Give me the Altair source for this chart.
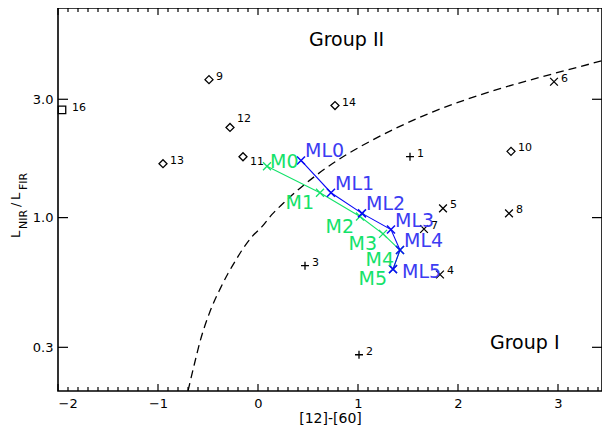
import altair as alt
import pandas as pd

FONT = "DejaVu Sans"
W, H = 544, 383

# ---- numbered sources ----
src_id = ["1", "2", "3", "4", "5", "6", "7", "8", "9", "10", "11", "12", "13", "14", "16"]
src_x = [1.52, 1.01, 0.47, 1.82, 1.85, 2.96, 1.66, 2.51, -0.49, 2.53, -0.15, -0.28, -0.95, 0.77, -1.96]
src_y = [1.76, 0.28, 0.64, 0.59, 1.09, 3.53, 0.90, 1.04, 3.60, 1.85, 1.76, 2.31, 1.65, 2.83, 2.72]
src_kind = ["plus", "plus", "plus", "cross", "cross", "cross", "cross", "cross",
            "diamond", "diamond", "diamond", "diamond", "diamond", "diamond", "square"]

# ---- model tracks ----
ml_name = ["ML0", "ML1", "ML2", "ML3", "ML4", "ML5"]
ml_x = [0.43, 0.73, 1.04, 1.33, 1.42, 1.35]
ml_y = [1.70, 1.26, 1.04, 0.895, 0.74, 0.62]
m_name = ["M0", "M1", "M2", "M3", "M4", "M5"]
m_x = [0.09, 0.62, 1.02, 1.25, 1.42, 1.35]
m_y = [1.61, 1.26, 1.01, 0.86, 0.74, 0.62]

# ---- dividing curve ----
curve_x = [-0.70, -0.63, -0.58, -0.48, -0.38, -0.30, -0.23, -0.15, -0.06, 0.04,
           0.14, 0.25, 0.59, 0.92, 1.09, 1.75, 2.42, 2.95, 3.50]
curve_y = [0.20, 0.263, 0.316, 0.418, 0.515, 0.595, 0.665, 0.75, 0.838, 0.92,
           1.03, 1.14, 1.49, 1.83, 2.00, 2.67, 3.31, 3.80, 4.35]

# ---- annotations ----
group_text = ["Group II", "Group I"]
group_x = [0.51, 2.32]
group_y = [4.94, 0.296]

# ---- axis ticks ----
x_major = [-2, -1, 0, 1, 2, 3]
x_minor = [round(-2 + 0.1 * i, 1) for i in range(55) if i % 10 != 0]
y_major = [0.3, 1.0, 3.0]

GREEN = "#14e26a"
BLUE = "#0a0af5"
BLUE_TXT = "#3c3cf2"

src_df = pd.DataFrame({"id": src_id, "x": src_x, "y": src_y, "kind": src_kind})
ml_df = pd.DataFrame({"name": ml_name, "x": ml_x, "y": ml_y, "i": list(range(len(ml_name)))})
m_df = pd.DataFrame({"name": m_name, "x": m_x, "y": m_y, "i": list(range(len(m_name)))})
curve_df = pd.DataFrame({"x": curve_x, "y": curve_y, "i": list(range(len(curve_x)))})
grp_df = pd.DataFrame({"t": group_text, "x": group_x, "y": group_y})
xmaj_df = pd.DataFrame({"x": x_major})
xmin_df = pd.DataFrame({"x": x_minor})
ymaj_df = pd.DataFrame({"y": y_major})

xs = alt.Scale(domain=[-2, 3.44], nice=False, zero=False)
ys = alt.Scale(type="log", domain=[0.2, 7], nice=False)
xaxis = alt.Axis(title="[12]-[60]", values=x_major, format="d", ticks=False, domain=False,
                 grid=False, labelPadding=6, titlePadding=1, labelFontSize=13,
                 titleFontSize=14, titleFontWeight="normal", labelFont=FONT, titleFont=FONT,
                 labelColor="black", titleColor="black")
yaxis = alt.Axis(title=None, values=y_major, format=".1f", ticks=False, domain=False,
                 grid=False, labelPadding=5, labelFontSize=13, labelFont=FONT,
                 labelColor="black")


def X(f="x"):
    return alt.X(f"{f}:Q", scale=xs, axis=xaxis)


def Y(f="y"):
    return alt.Y(f"{f}:Q", scale=ys, axis=yaxis)


plus_path = "M-1,0L1,0M0,-1L0,1"
x_path = "M-1,-1L1,1M-1,1L1,-1"

layers = []

# dashed curve
layers.append(alt.Chart(curve_df).mark_line(color="black", strokeWidth=1.3,
                                             strokeDash=[8, 5], clip=True,
                                             interpolate="monotone")
              .encode(x=X(), y=Y(), order="i:Q"))

# green track
layers.append(alt.Chart(m_df).mark_line(color=GREEN, strokeWidth=1.1)
              .encode(x=X(), y=Y(), order="i:Q"))
layers.append(alt.Chart(m_df).mark_point(shape=x_path, filled=False, color=GREEN,
                                          size=64, strokeWidth=1.3, opacity=1)
              .encode(x=X(), y=Y()))
# blue track
layers.append(alt.Chart(ml_df).mark_line(color=BLUE, strokeWidth=1.1)
              .encode(x=X(), y=Y(), order="i:Q"))
layers.append(alt.Chart(ml_df).mark_point(shape=x_path, filled=False, color=BLUE,
                                           size=64, strokeWidth=1.5, opacity=1)
              .encode(x=X(), y=Y()))

# sources
shape_of = {"plus": (plus_path, 64), "cross": (x_path, 60), "diamond": ("diamond", 64),
            "square": ("square", 56)}
for kind, (shp, sz) in shape_of.items():
    layers.append(alt.Chart(src_df).transform_filter(alt.datum.kind == kind)
                  .mark_point(shape=shp, filled=False, color="black", size=sz,
                              strokeWidth=1.3, opacity=1)
                  .encode(x=X(), y=Y()))

# source labels
lab = dict(font=FONT, fontSize=11, color="black", align="left", baseline="middle", dx=7)
layers.append(alt.Chart(src_df).transform_filter("datum.id != '11' && datum.id != '12' && datum.id != '16'")
              .mark_text(dy=-3, **lab).encode(x=X(), y=Y(), text="id:N"))
layers.append(alt.Chart(src_df).transform_filter("datum.id == '12'")
              .mark_text(dy=-8, **lab).encode(x=X(), y=Y(), text="id:N"))
layers.append(alt.Chart(src_df).transform_filter("datum.id == '11'")
              .mark_text(dy=5, **lab).encode(x=X(), y=Y(), text="id:N"))
lab16 = dict(lab)
lab16["dx"] = 10
layers.append(alt.Chart(src_df).transform_filter("datum.id == '16'")
              .mark_text(dy=-2, **lab16).encode(x=X(), y=Y(), text="id:N"))

# model labels
mlab = dict(font=FONT, fontSize=19, baseline="alphabetic")
layers.append(alt.Chart(ml_df).transform_filter("datum.name != 'ML5'")
              .mark_text(align="left", dx=4, dy=-3, color=BLUE_TXT, **mlab)
              .encode(x=X(), y=Y(), text="name:N"))
layers.append(alt.Chart(ml_df).transform_filter("datum.name == 'ML5'")
              .mark_text(align="left", dx=9, dy=9, color=BLUE_TXT, **mlab)
              .encode(x=X(), y=Y(), text="name:N"))
layers.append(alt.Chart(m_df).transform_filter("datum.name != 'M0'")
              .mark_text(align="right", dx=-6, dy=16, color=GREEN, **mlab)
              .encode(x=X(), y=Y(), text="name:N"))
layers.append(alt.Chart(m_df).transform_filter("datum.name == 'M0'")
              .mark_text(align="left", dx=3, dy=2, color=GREEN, **mlab)
              .encode(x=X(), y=Y(), text="name:N"))

# group labels
layers.append(alt.Chart(grp_df).mark_text(font=FONT, fontSize=19, align="left",
                                           baseline="alphabetic", color="black")
              .encode(x=X(), y=Y(), text="t:N"))

# inward ticks
tk = dict(color="black", strokeWidth=1.2)
layers.append(alt.Chart(xmaj_df).mark_rule(**tk)
              .encode(x=X(), y=alt.value(H), y2=alt.value(H - 7)))
layers.append(alt.Chart(xmin_df).mark_rule(**tk)
              .encode(x=X(), y=alt.value(H), y2=alt.value(H - 4)))
layers.append(alt.Chart(xmaj_df).mark_rule(**tk)
              .encode(x=X(), y=alt.value(0), y2=alt.value(7)))
layers.append(alt.Chart(xmin_df).mark_rule(**tk)
              .encode(x=X(), y=alt.value(0), y2=alt.value(4)))
layers.append(alt.Chart(ymaj_df).mark_rule(**tk)
              .encode(y=Y(), x=alt.value(0), x2=alt.value(10)))
layers.append(alt.Chart(ymaj_df).mark_rule(**tk)
              .encode(y=Y(), x=alt.value(W), x2=alt.value(W - 10)))

# y-axis title L_NIR / L_FIR built from pieces (rotated)
ytitle_pieces = ["L", "NIR", "/", "L", "FIR"]
ytitle_pos = [230, 221, 199, 192, 182]
ytitle_sub = [False, True, False, False, True]
for txt, pos, sub in zip(ytitle_pieces, ytitle_pos, ytitle_sub):
    layers.append(alt.Chart(pd.DataFrame({"t": [txt]})).mark_text(
        font=FONT, fontSize=11 if sub else 13, angle=270, align="left",
        baseline="alphabetic", color="black")
        .encode(text="t:N", x=alt.value(-31 if sub else -38), y=alt.value(pos)))

chart = alt.layer(*layers).properties(
    width=W, height=H,
    autosize=alt.AutoSizeParams(type="none"),
    padding={"left": 50, "top": 0, "right": 0, "bottom": 42},
).configure(background="white").configure_view(stroke="black", strokeWidth=1.6)

chart.save("out.html", embed_options={"renderer": "svg", "actions": False})
